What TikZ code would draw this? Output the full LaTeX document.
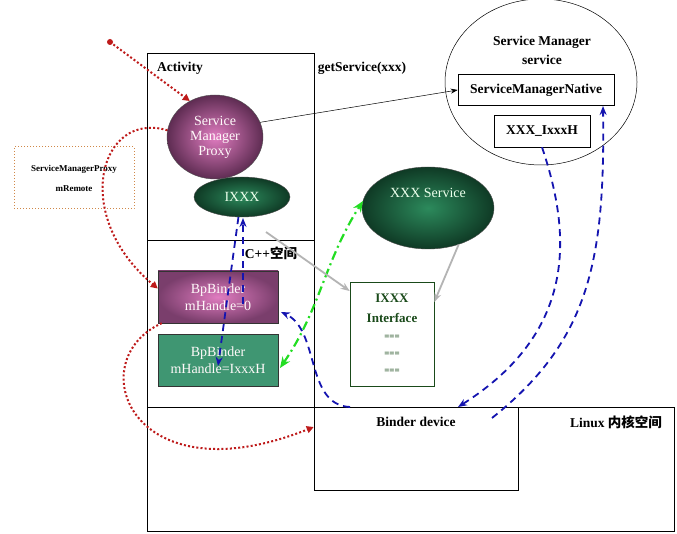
\documentclass[tikz,border=0pt]{standalone}
\usepackage{fontspec}
\setmainfont{Liberation Serif}
\newfontfamily\cjk{Noto Sans CJK SC}
\usetikzlibrary{arrows.meta,shapes.geometric}
\definecolor{redline}{HTML}{BE1A1A}
\definecolor{blueline}{HTML}{1414B0}
\definecolor{greenline}{HTML}{22DD22}
\definecolor{grayline}{HTML}{B4B4B4}
\definecolor{orangebox}{HTML}{D08848}
\definecolor{txtgreen}{HTML}{1A4A1A}
\definecolor{pinkin}{HTML}{E07CC0}
\definecolor{pinkout}{HTML}{5E2C52}
\definecolor{pinkout2}{HTML}{7A3E6C}
\definecolor{greenin}{HTML}{2C8A5C}
\definecolor{greenout}{HTML}{0F3A25}
\definecolor{handlegreen}{HTML}{3F9672}
\tikzset{
  region/.style={draw=black, line width=.6pt},
  purpleball/.style={ellipse, draw=black!70, inner color=pinkin, outer color=pinkout, text=white!92!pink, font=\fontsize{14}{16}\selectfont, align=center},
  greenball/.style={ellipse, draw=black!70, inner color=greenin, outer color=greenout, text=white!92!green, font=\fontsize{14}{16}\selectfont},
  binderbox/.style={rectangle, draw=black!80, minimum width=120pt, minimum height=52pt, text=white!92!pink, align=center, font=\fontsize{14}{17}\selectfont},
  redflow/.style={redline, line width=2pt, dash pattern=on 2pt off 2.2pt, -{Triangle[length=7pt,width=7pt]}},
  blueflow/.style={blueline, line width=1.8pt, dash pattern=on 7pt off 5pt, -{Stealth[length=9pt,width=7pt]}},
  grayflow/.style={grayline, line width=1.8pt, -{Stealth[length=9pt,width=7pt]}},
  label/.style={font=\bfseries\fontsize{13.5}{15}\selectfont}
}
\begin{document}
\begin{tikzpicture}[x=1pt, y=-1pt]
  \useasboundingbox[fill=white] (0,0) rectangle (677,534);

  %% regions
  \draw[region] (147,53) rectangle (314,240);
  \draw[region] (147,240) rectangle (314,407);
  \draw[region] (147,407) rectangle (674,531);
  \node[region, minimum width=204pt, minimum height=83pt, inner sep=0pt] (bdevbox) at (416,448.5) {};
  \node[label] (act) at (180,68) {Activity};
  \node[label] (gets) at (362,68) {getService(xxx)};
  \node[label] (cpp) at (271,253) {C++{\cjk 空间}};
  \node[label] (bdev) at (416,422) {Binder device};
  \node[label] (linux) at (616,422) {Linux {\cjk 内核空间}};

  %% service manager
  \node[ellipse, draw, line width=.5pt, minimum width=192pt, minimum height=166pt] (smsvc) at (541,82) {};
  \node[label, align=center] (smtxt) at (542,50) {Service Manager\\[4pt]service};
  \node[draw, line width=.6pt, minimum width=156pt, minimum height=31pt, label] (smn) at (536,90) {ServiceManagerNative};
  \node[draw, line width=.6pt, minimum width=96pt, minimum height=32pt, label] (ixh) at (542,131) {XXX\_IxxxH};

  %% activity side
  \node[purpleball, minimum width=96pt, minimum height=84pt, inner sep=0pt] (smp) at (215,137) {Service\\[-1pt]Manager\\[-1pt]Proxy};
  \node[greenball, minimum width=96pt, minimum height=40pt] (ixxx) at (242,197) {IXXX};
  \node[draw=orangebox, line width=1pt, dotted, minimum width=120pt, minimum height=62pt, align=center,
        font=\bfseries\fontsize{9}{16}\selectfont] (proxy) at (74,178) {ServiceManagerProxy\\[4pt]mRemote};
  \coordinate (start) at (110,42);
  \fill[redline] (start) circle (3pt);

  %% native side
  \node[binderbox, inner color=pinkin, outer color=pinkout2] (bp0) at (218,297) {BpBinder\\mHandle=0};
  \node[binderbox, fill=handlegreen] (bph) at (218,360) {BpBinder\\mHandle=IxxxH};
  \node[greenball, minimum width=132pt, minimum height=82pt] (xsvc) at (428,208) {};
  \node[text=white!92!green, font=\fontsize{14}{16}\selectfont] (xsvctxt) at (428,193) {XXX Service};
  \node[draw=txtgreen, line width=.6pt, minimum width=84pt, minimum height=104pt, text=txtgreen,
        align=center, font=\bfseries\fontsize{13}{20}\selectfont] (iface) at (392,334) {IXXX\\Interface\\[-3pt]{\fontsize{9}{20}\selectfont ===}\\[-3pt]{\fontsize{9}{20}\selectfont ===}\\[-3pt]{\fontsize{9}{20}\selectfont ===}};

  %% connector ends
  \coordinate (bpdown) at (218,366);
  \coordinate (bpup) at (243,304);
  \coordinate (ixxxup) at (243,218);
  \coordinate (bdevtop) at (350,407);
  \coordinate (bp0back) at (281,312);
  \coordinate (bdevin) at (458,407);
  \coordinate (bdevout) at (492,418);
  \coordinate (smnin) at (603,106);
  \coordinate (bphgreen) at (280,368);
  \coordinate (xsvcgreen) at (363,201);

  %% connectors
  \draw[line width=.5pt, -{Stealth[length=7pt,width=5pt]}] (smp.18) -- (smn.west);
  \draw[redflow] (start) -- (smp.125);
  \draw[redflow] (smp.172) .. controls (100,110) and (70,215) .. (bp0.172);
  \draw[redflow] (bp0.205) .. controls (80,360) and (130,500) .. (bdevbox.west |- 0,427);
  \draw[blueflow] (ixxx.260) -- (bpdown);
  \draw[blueflow] (bpup) -- (ixxxup);
  \draw[blueflow] (bdevtop) .. controls (305,405) and (320,330) .. (bp0back);
  \draw[blueflow] (ixh.south) .. controls (570,230) and (580,330) .. (bdevin);
  \draw[blueflow] (bdevout) .. controls (590,340) and (605,260) .. (smnin);
  \draw[greenline, line width=2.2pt, dash pattern=on 9pt off 4pt on 2pt off 4pt,
        {Stealth[length=11pt,width=9pt]}-{Stealth[length=11pt,width=9pt]}] (bphgreen) .. controls (320,310) and (325,260) .. (xsvcgreen);
  \draw[grayflow] (266,232) -- (iface.west |- 0,291);
  \draw[grayflow] (xsvc.-50) -- (iface.east |- 0,302);
\end{tikzpicture}
\end{document}
